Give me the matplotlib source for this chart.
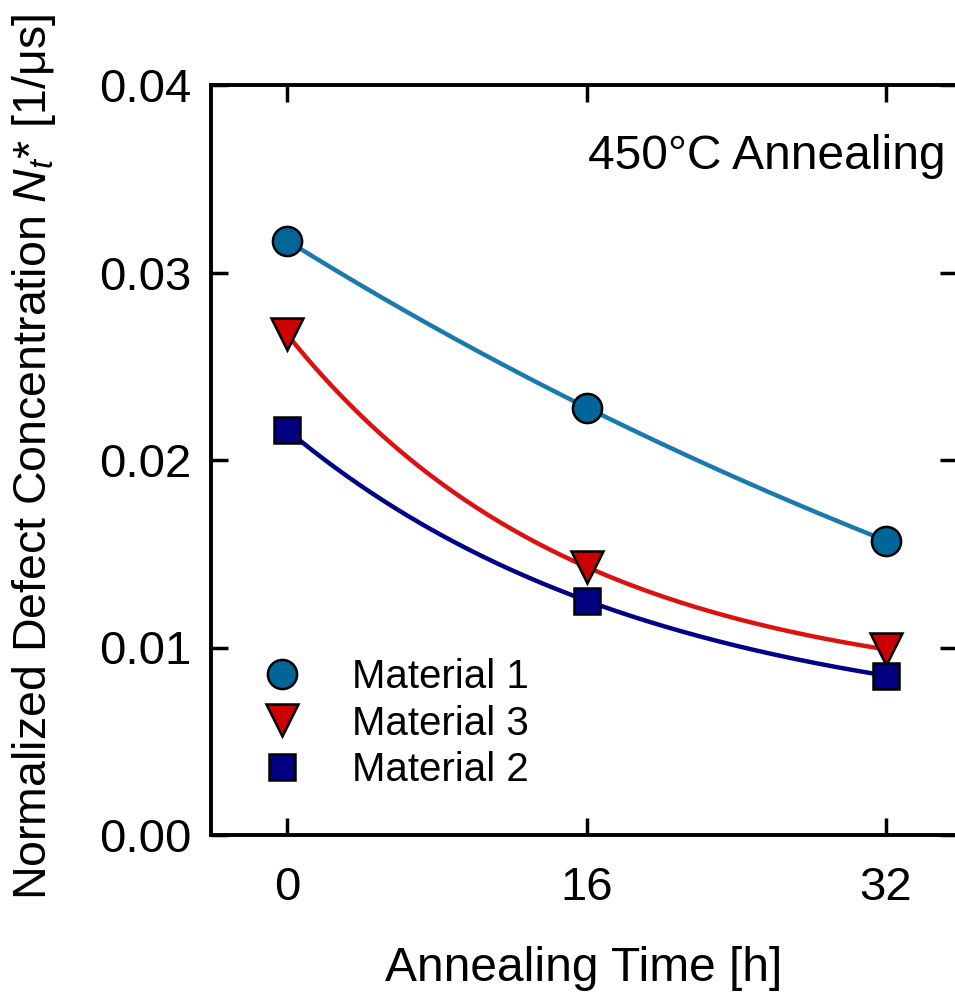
import numpy as np
import matplotlib

matplotlib.use("Agg")
import matplotlib.pyplot as plt

# annealing time [h] and normalized defect concentration N_t* [1/us]
hours = [0, 16, 32]
mat1 = [0.0317, 0.0228, 0.0157]
mat3 = [0.0267, 0.0143, 0.0099]
mat2 = [0.0216, 0.0125, 0.0085]

plt.rcParams["font.family"] = ["Liberation Sans", "DejaVu Sans"]
plt.rcParams["mathtext.fontset"] = "custom"
plt.rcParams["mathtext.it"] = "Liberation Sans:italic"
plt.rcParams["mathtext.rm"] = "Liberation Sans"


def exp_fit(t, y):
    """a + b*exp(-k t) through three equally spaced points."""
    y1, y2, y3 = y
    r = (y2 - y3) / (y1 - y2)
    dt = t[1] - t[0]
    k = -np.log(r) / dt
    b = (y1 - y2) / (1 - r)
    a = y1 - b
    tt = np.linspace(t[0], t[-1], 200)
    return tt, a + b * np.exp(-k * (tt - t[0]))


series = [
    ("Material 1", mat1, "o", "#006699", "#1a7aad", 21),
    ("Material 3", mat3, "v", "#cc0000", "#dd1111", 23),
    ("Material 2", mat2, "s", "#000080", "#000088", 19),
]

fig = plt.figure(figsize=(9.55, 9.93), dpi=100)
ax = fig.add_axes([211 / 955, 1 - 835 / 993, (957 - 211) / 955, (835 - 85) / 993])

for name, y, m, fc, lc, ms in series:
    tt, yy = exp_fit(hours, y)
    ax.plot(tt, yy, color=lc, lw=3.2, zorder=2)
    ax.plot(hours, y, ls="none", marker=m, ms=ms, mfc=fc, mec="black", mew=1.8,
            label=name, zorder=3)

ax.set_xlim(-4.07, 35.8)
ax.set_ylim(0, 0.04)
ax.set_xticks(hours)
ax.set_yticks([0, 0.01, 0.02, 0.03, 0.04])
ax.yaxis.set_major_formatter(matplotlib.ticker.FormatStrFormatter("%.2f"))
ax.tick_params(direction="in", length=12, width=2.5, labelsize=34, pad=14,
               top=True, right=True)
ax.tick_params(axis="x", pad=22)
for s in ax.spines.values():
    s.set_linewidth(2.8)

ax.set_xlabel("Annealing Time [h]", fontsize=34.5)
ax.xaxis.set_label_coords(0.5, -0.148)
ax.set_ylabel(r"Normalized Defect Concentration $N_t$* [1/$\mathrm{\mu}$s]",
              fontsize=33.5)
ax.yaxis.set_label_coords(-0.205, 0.504)

ax.text(0.985, 0.905, "450°C Annealing", transform=ax.transAxes, ha="right",
        va="center", fontsize=34.5)

ax.legend(loc="lower left", bbox_to_anchor=(0.03, 0.035), frameon=False,
          fontsize=29, handletextpad=1.05, labelspacing=0.2, handlelength=1.4,
          borderpad=0)

fig.savefig("out.png", dpi=100)
